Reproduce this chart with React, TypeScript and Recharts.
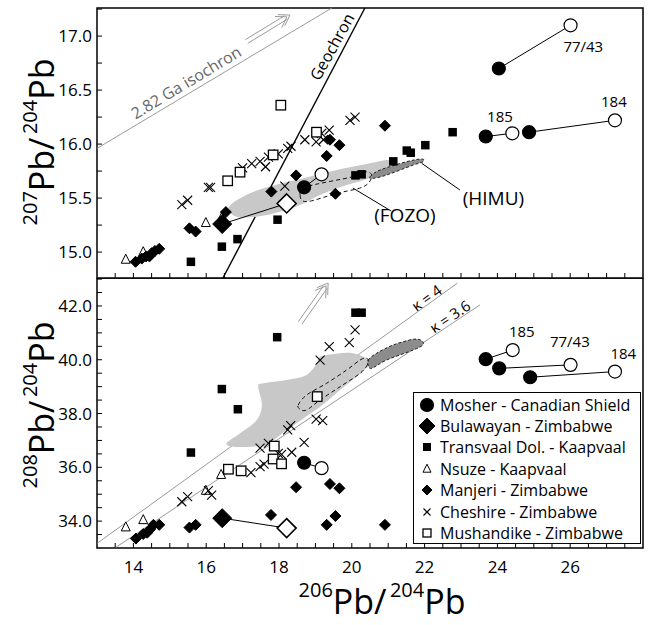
import React from 'react';
import {
  ScatterChart, Scatter, XAxis, YAxis, ReferenceLine, ReferenceDot, ReferenceArea,
} from 'recharts';

const FONT = '"Open Sans", sans-serif';

// axis ranges and labelled ticks
const xDomain = [13, 28];
const y207Domain = [14.76, 17.26];
const y208Domain = [33.0, 43.04];
const xLabels = [14, 16, 18, 20, 22, 24, 26, 28];
const y207Labels = [15.0, 15.5, 16.0, 16.5, 17.0];
const y208Labels = [34.0, 36.0, 38.0, 40.0, 42.0];

// 206Pb/204Pb vs 207Pb/204Pb
const mosher207 = [
  [[18.69, 15.60], [19.17, 15.72]],
  [[24.04, 16.70], [26.01, 17.10]],
  [[23.68, 16.07], [24.41, 16.10]],
  [[24.87, 16.11], [27.23, 16.22]],
];
const bulawayan207 = [[16.44, 15.26], [18.21, 15.45]];
const transvaal207 = [
  [15.58, 14.91], [16.43, 15.05], [16.86, 15.12], [17.96, 15.30], [20.10, 15.71], [20.27, 15.72],
  [21.14, 15.84], [21.51, 15.94], [21.62, 15.92], [22.02, 15.99], [22.77, 16.11],
];
const nsuze207 = [[13.79, 14.93], [14.27, 15.00], [15.99, 15.27], [16.43, 15.32]];
const manjeri207 = [
  [14.06, 14.91], [14.23, 14.94], [14.35, 14.96], [14.44, 14.96], [14.50, 14.99], [14.59, 15.01],
  [14.71, 15.03], [15.54, 15.22], [15.71, 15.19], [16.54, 15.37], [17.79, 15.56], [18.47, 15.71],
  [19.31, 15.89], [19.40, 16.04], [19.66, 15.99], [19.55, 15.54], [20.91, 16.17],
];
const cheshire207 = [
  [15.33, 15.44], [15.49, 15.48], [16.06, 15.60], [16.12, 15.60], [17.00, 15.78], [17.25, 15.82],
  [17.48, 15.84], [17.63, 15.79], [17.71, 15.88], [17.98, 15.91], [18.24, 15.96], [18.33, 15.98],
  [18.16, 15.61], [18.71, 16.04], [19.02, 16.02], [19.17, 16.10], [19.38, 16.13], [19.22, 16.04],
  [19.95, 16.22], [20.09, 16.25],
];
const mushandike207 = [[16.59, 15.66], [16.93, 15.74], [17.84, 15.90], [18.05, 16.36], [19.03, 16.11]];

const fozoField207 = [
  [16.61, 15.405], [16.93, 15.498], [17.57, 15.591], [18.67, 15.683], [19.59, 15.76], [20.50, 15.822],
  [20.96, 15.853], [21.23, 15.837], [21.19, 15.78], [20.50, 15.683], [19.86, 15.621], [19.13, 15.529],
  [18.58, 15.436], [18.03, 15.374], [17.39, 15.328], [16.84, 15.328],
];
const fozoCore207 = [
  [18.58, 15.529], [18.76, 15.605], [20.04, 15.698], [20.41, 15.744], [20.55, 15.698],
  [20.32, 15.605], [19.59, 15.544], [18.76, 15.467],
];
const himu207 = [
  [20.50, 15.698], [20.78, 15.76], [21.51, 15.837], [21.92, 15.862], [21.96, 15.837],
  [21.69, 15.806], [20.96, 15.714], [20.59, 15.683],
];

// 206Pb/204Pb vs 208Pb/204Pb
const mosher208 = [
  [[18.69, 36.17], [19.17, 35.97]],
  [[24.05, 39.68], [26.01, 39.81]],
  [[23.68, 40.02], [24.42, 40.36]],
  [[24.90, 39.35], [27.23, 39.56]],
];
const bulawayan208 = [[16.44, 34.11], [18.21, 33.74]];
const transvaal208 = [[15.58, 36.55], [16.43, 38.91], [16.87, 38.16], [17.95, 40.84], [20.10, 41.75], [20.27, 41.75]];
const nsuze208 = [[13.79, 33.77], [14.27, 34.04], [15.99, 35.13], [16.41, 35.72]];
const manjeri208 = [
  [14.07, 33.35], [14.27, 33.52], [14.38, 33.57], [14.46, 33.70], [14.55, 33.86], [14.71, 33.86],
  [15.54, 33.76], [15.71, 33.86], [17.78, 34.23], [18.47, 35.26], [19.40, 35.38], [19.66, 35.22],
  [19.31, 33.86], [19.55, 34.19], [20.91, 33.86],
];
const cheshire208 = [
  [15.33, 34.72], [15.49, 34.91], [16.06, 35.13], [16.15, 34.97], [17.23, 35.80], [17.48, 36.03],
  [17.59, 36.12], [17.48, 36.71], [17.71, 36.89], [17.98, 36.52], [18.07, 36.48], [18.35, 36.56],
  [18.24, 37.39], [18.32, 37.55], [18.69, 36.93], [19.02, 37.79], [19.20, 37.74], [19.13, 39.99],
  [19.38, 40.49], [19.93, 40.64], [20.09, 41.11],
];
const mushandike208 = [[16.61, 35.93], [16.96, 35.87], [17.87, 36.79], [17.84, 36.31], [18.07, 36.13], [19.05, 38.63]];

const fozoField208 = [
  [16.56, 36.895], [16.93, 37.267], [17.39, 37.761], [17.53, 38.319], [17.43, 38.999], [17.57, 39.126],
  [18.21, 39.248], [18.76, 39.434], [19.04, 39.869], [19.13, 40.114], [19.68, 40.241], [20.04, 40.241],
  [20.41, 40.055], [20.50, 39.929], [20.45, 39.743], [19.68, 38.876], [19.13, 38.256], [18.21, 37.389],
  [17.66, 36.832], [17.29, 36.769], [16.75, 36.769],
];
const fozoCore208 = [
  [18.53, 38.319], [18.76, 38.691], [19.31, 39.126], [19.86, 39.62], [20.23, 39.992], [20.41, 40.055],
  [20.45, 39.869], [20.23, 39.497], [19.68, 39.0], [19.13, 38.505], [18.76, 38.133], [18.58, 38.159],
];
const himu208 = [
  [20.45, 39.992], [20.68, 40.241], [21.14, 40.55], [21.69, 40.761], [21.92, 40.709], [21.95, 40.55],
  [21.69, 40.364], [20.96, 39.992], [20.55, 39.683], [20.45, 39.806],
];

const sampleIds = ['', '77/43', '185', '184'];

const pts = (arr: number[][]) => arr.map(([x, y]) => ({ x, y }));
const pairPts = (arr: number[][]) => arr.map(([x, y], i) => ({ x, y, open: i === 1 }));

// marker shapes
const circle = (cx: number, cy: number, open: boolean) => (
  <circle cx={cx} cy={cy} r={6.5} fill={open ? '#fff' : '#000'} stroke="#000" strokeWidth={1.2} />
);
const diamond = (cx: number, cy: number, h: number, open = false) => (
  <polygon points={`${cx},${cy - h} ${cx + h},${cy} ${cx},${cy + h} ${cx - h},${cy}`}
    fill={open ? '#fff' : '#000'} stroke="#000" strokeWidth={open ? 1.6 : 1} />
);
const square = (cx: number, cy: number, s: number, open = false) => (
  <rect x={cx - s / 2} y={cy - s / 2} width={s} height={s} fill={open ? '#fff' : '#000'} stroke="#000" strokeWidth={open ? 1.3 : 0} />
);
const triangle = (cx: number, cy: number, s: number) => (
  <polygon points={`${cx},${cy - s * 0.6} ${cx + s / 2},${cy + s * 0.4} ${cx - s / 2},${cy + s * 0.4}`}
    fill="#fff" stroke="#000" strokeWidth={1} />
);
const cross = (cx: number, cy: number, a: number) => (
  <g stroke="#000" strokeWidth={1.1}>
    <line x1={cx - a} y1={cy - a} x2={cx + a} y2={cy + a} />
    <line x1={cx - a} y1={cy + a} x2={cx + a} y2={cy - a} />
  </g>
);

const legendItems = [
  { label: 'Mosher - Canadian Shield', icon: circle(9, 10, false) },
  { label: 'Bulawayan - Zimbabwe', icon: diamond(9, 10, 8) },
  { label: 'Transvaal Dol. - Kaapvaal', icon: square(9, 10, 8) },
  { label: 'Nsuze - Kaapvaal', icon: triangle(9, 10, 8) },
  { label: 'Manjeri - Zimbabwe', icon: diamond(9, 10, 5) },
  { label: 'Cheshire - Zimbabwe', icon: cross(9, 10, 3.5) },
  { label: 'Mushandike - Zimbabwe', icon: square(9, 10, 8, true) },
];

// closed smooth outline through the scatter's pixel points
const polygonLine = (fill: string, stroke: string, dash?: string) => (p: any) => {
  const q = p.points;
  const n = q.length;
  let d = `M${q[0].x},${q[0].y}`;
  for (let i = 0; i < n; i++) {
    const p0 = q[(i - 1 + n) % n], p1 = q[i], p2 = q[(i + 1) % n], p3 = q[(i + 2) % n];
    const c1x = p1.x + (p2.x - p0.x) / 6, c1y = p1.y + (p2.y - p0.y) / 6;
    const c2x = p2.x - (p3.x - p1.x) / 6, c2y = p2.y - (p3.y - p1.y) / 6;
    d += ` C${c1x},${c1y} ${c2x},${c2y} ${p2.x},${p2.y}`;
  }
  return <path d={d + ' Z'} fill={fill} stroke={stroke} strokeWidth={1} strokeDasharray={dash} />;
};

const doubleArrow = (p: any) => {
  const { x1, y1, x2, y2 } = p;
  const len = Math.hypot(x2 - x1, y2 - y1);
  const ux = (x2 - x1) / len, uy = (y2 - y1) / len;
  const nx = -uy, ny = ux;
  const w = 2.2, h = 10;
  const chev = (back: number) => {
    const tx = x2 - ux * back, ty = y2 - uy * back;
    return `${tx - ux * h + nx * h * 0.65},${ty - uy * h + ny * h * 0.65} ${tx},${ty} ${tx - ux * h - nx * h * 0.65},${ty - uy * h - ny * h * 0.65}`;
  };
  const ex = x2 - ux * 5, ey = y2 - uy * 5;
  return (
    <g stroke="#9a9a9a" strokeWidth={1} fill="none">
      <line x1={x1 + nx * w} y1={y1 + ny * w} x2={ex + nx * w} y2={ey + ny * w} />
      <line x1={x1 - nx * w} y1={y1 - ny * w} x2={ex - nx * w} y2={ey - ny * w} />
      <polyline points={chev(0)} />
      <polyline points={chev(3.5)} />
    </g>
  );
};

const makeXTick = (labels: boolean) => (p: any) => {
  const v = p.payload.value;
  return (
    <g>
      <line x1={p.x} y1={p.y} x2={p.x} y2={p.y - 5} stroke="#000" strokeWidth={1} />
      {labels && xLabels.includes(v) && (
        <text x={p.x} y={p.y + 25} textAnchor="middle" fontSize={17} fontFamily={FONT} fill="#000">{v}</text>
      )}
    </g>
  );
};
const makeYTick = (labelVals: number[]) => (p: any) => {
  const v = p.payload.value;
  const show = labelVals.some((l) => Math.abs(l - v) < 1e-6);
  return (
    <g>
      <line x1={p.x} y1={p.y} x2={p.x + 5} y2={p.y} stroke="#000" strokeWidth={1} />
      {show && (
        <text x={p.x - 5} y={p.y + 6} textAnchor="end" fontSize={17} fontFamily={FONT} fill="#000">{v.toFixed(1)}</text>
      )}
    </g>
  );
};

const steps = (a: number, b: number, s: number) => Array.from({ length: Math.round((b - a) / s) + 1 }, (_, i) => +(a + i * s).toFixed(3));
const xMinor = steps(13.5, 27.5, 0.5);
const y207Minor = steps(15.0, 17.25, 0.25);
const y208Minor = steps(33.5, 43.0, 0.5);

const lbl = (value: string, fontSize = 15, angle = 0, fill = '#000') => ({
  value, position: 'center' as const, fontSize, angle, fill, fontFamily: FONT,
});

function panelSeries(d: any) {
  return [
    <Scatter key="field" data={pts(d.field)} shape={() => <g />} line={polygonLine('#c8c8c8', 'none')} isAnimationActive={false} />,
    <Scatter key="himu" data={pts(d.himu)} shape={() => <g />} line={polygonLine('#8c8c8c', '#222', '3 2')} isAnimationActive={false} />,
    <Scatter key="core" data={pts(d.core)} shape={() => <g />} line={polygonLine('none', '#111', '4 3')} isAnimationActive={false} />,
    <Scatter key="transvaal" data={pts(d.transvaal)} shape={(p: any) => square(p.cx, p.cy, 8.5)} isAnimationActive={false} />,
    <Scatter key="nsuze" data={pts(d.nsuze)} shape={(p: any) => triangle(p.cx, p.cy, 9)} isAnimationActive={false} />,
    <Scatter key="manjeri" data={pts(d.manjeri)} shape={(p: any) => diamond(p.cx, p.cy, 5.5)} isAnimationActive={false} />,
    <Scatter key="cheshire" data={pts(d.cheshire)} shape={(p: any) => cross(p.cx, p.cy, 4.5)} isAnimationActive={false} />,
    <Scatter key="mushandike" data={pts(d.mushandike)} shape={(p: any) => square(p.cx, p.cy, 9.5, true)} isAnimationActive={false} />,
    <Scatter key="bulawayan" data={pairPts(d.bulawayan)} line={{ stroke: '#000', strokeWidth: 1 }}
      shape={(p: any) => diamond(p.cx, p.cy, 9.5, p.payload.open)} isAnimationActive={false} />,
    ...d.mosher.map((pair: number[][], i: number) => (
      <Scatter key={`mosher${i}`} data={pairPts(pair)} line={{ stroke: '#000', strokeWidth: 1 }}
        shape={(p: any) => circle(p.cx, p.cy, p.payload.open)} isAnimationActive={false} />
    )),
  ];
}

const ratioTitle = (x: number, y: number, top: string, rotate: boolean) => (
  <text x={x} y={y} transform={rotate ? `rotate(-90 ${x} ${y})` : undefined} textAnchor="middle" fill="#000">
    <tspan fontSize={20} dy={-17}>{top}</tspan><tspan fontSize={34} dy={17}>Pb/</tspan>
    <tspan fontSize={20} dy={-17}>{'\u2009204'}</tspan><tspan fontSize={34} dy={17}>Pb</tspan>
  </text>
);

export default function App() {
  const W = 655;
  return (
    <div style={{ position: 'absolute', left: 0, top: 0, width: W, height: 625, background: '#fff', fontFamily: FONT }}>
      <div style={{ position: 'absolute', left: 0, top: 0 }}>
        <ScatterChart width={W} height={279} margin={{ top: 8, right: 12, bottom: 0, left: 0 }}>
          <XAxis dataKey="x" type="number" domain={xDomain} allowDataOverflow ticks={xMinor} interval={0}
            height={1} tickSize={0} tickMargin={0} axisLine={false} tickLine={false} tick={makeXTick(false)} />
          <YAxis dataKey="y" type="number" domain={y207Domain} allowDataOverflow ticks={y207Minor} interval={0}
            width={97} tickSize={0} tickMargin={0} axisLine={false} tickLine={false} tick={makeYTick(y207Labels)} />
          <ReferenceLine segment={[{ x: 13, y: 15.96 }, { x: 19.45, y: 17.26 }]} stroke="#9a9a9a" strokeWidth={1} ifOverflow="visible" />
          <ReferenceLine segment={[{ x: 16.46, y: 14.76 }, { x: 20.36, y: 17.26 }]} stroke="#000" strokeWidth={1.4} ifOverflow="visible" />
          <ReferenceLine segment={[{ x: 17.11, y: 16.95 }, { x: 18.30, y: 17.195 }]} shape={doubleArrow} ifOverflow="visible" />
          <ReferenceLine segment={[{ x: 20.03, y: 15.593 }, { x: 21.08, y: 15.38 }]} stroke="#000" strokeWidth={1} ifOverflow="visible" />
          <ReferenceLine segment={[{ x: 21.92, y: 15.822 }, { x: 22.97, y: 15.575 }]} stroke="#000" strokeWidth={1} ifOverflow="visible" />
          {panelSeries({
            field: fozoField207, core: fozoCore207, himu: himu207, mosher: mosher207, bulawayan: bulawayan207,
            transvaal: transvaal207, nsuze: nsuze207, manjeri: manjeri207, cheshire: cheshire207, mushandike: mushandike207,
          })}
          <ReferenceDot x={15.45} y={16.57} r={0} fill="none" stroke="none" ifOverflow="visible" label={lbl('2.82 Ga isochron', 16, -31, '#666')} />
          <ReferenceDot x={19.46} y={16.90} r={0} fill="none" stroke="none" ifOverflow="visible" label={lbl('Geochron', 16, -61)} />
          <ReferenceDot x={26.36} y={16.90} r={0} fill="none" stroke="none" ifOverflow="visible" label={lbl(sampleIds[1])} />
          <ReferenceDot x={24.07} y={16.25} r={0} fill="none" stroke="none" ifOverflow="visible" label={lbl(sampleIds[2])} />
          <ReferenceDot x={27.20} y={16.39} r={0} fill="none" stroke="none" ifOverflow="visible" label={lbl(sampleIds[3])} />
          <ReferenceDot x={21.46} y={15.34} r={0} fill="none" stroke="none" ifOverflow="visible" label={lbl('(FOZO)', 19)} />
          <ReferenceDot x={23.89} y={15.50} r={0} fill="none" stroke="none" ifOverflow="visible" label={lbl('(HIMU)', 19)} />
          <ReferenceArea x1={13} x2={28} y1={y207Domain[0]} y2={y207Domain[1]} fill="none" stroke="#000" strokeWidth={1.5} ifOverflow="visible" />
        </ScatterChart>
      </div>
      <div style={{ position: 'absolute', left: 0, top: 278 }}>
        <ScatterChart width={W} height={347} margin={{ top: 0, right: 12, bottom: 0, left: 0 }}>
          <XAxis dataKey="x" type="number" domain={xDomain} allowDataOverflow ticks={xMinor} interval={0}
            height={77} tickSize={0} tickMargin={0} axisLine={false} tickLine={false} tick={makeXTick(true)} />
          <YAxis dataKey="y" type="number" domain={y208Domain} allowDataOverflow ticks={y208Minor} interval={0}
            width={97} tickSize={0} tickMargin={0} axisLine={false} tickLine={false} tick={makeYTick(y208Labels)} />
          <ReferenceLine segment={[{ x: 13.01, y: 33.18 }, { x: 22.9, y: 42.85 }]} stroke="#9a9a9a" strokeWidth={1} ifOverflow="visible" />
          <ReferenceLine segment={[{ x: 13.49, y: 33.0 }, { x: 23.52, y: 42.04 }]} stroke="#9a9a9a" strokeWidth={1} ifOverflow="visible" />
          <ReferenceLine segment={[{ x: 18.58, y: 41.37 }, { x: 19.35, y: 42.85 }]} shape={doubleArrow} ifOverflow="visible" />
          {panelSeries({
            field: fozoField208, core: fozoCore208, himu: himu208, mosher: mosher208, bulawayan: bulawayan208,
            transvaal: transvaal208, nsuze: nsuze208, manjeri: manjeri208, cheshire: cheshire208, mushandike: mushandike208,
          })}
          <ReferenceDot x={22.06} y={42.29} r={0} fill="none" stroke="none" ifOverflow="visible" label={lbl('κ = 4', 15, -36)} />
          <ReferenceDot x={22.70} y={41.60} r={0} fill="none" stroke="none" ifOverflow="visible" label={lbl('κ = 3.6', 15, -34)} />
          <ReferenceDot x={24.67} y={41.04} r={0} fill="none" stroke="none" ifOverflow="visible" label={lbl(sampleIds[2])} />
          <ReferenceDot x={25.99} y={40.67} r={0} fill="none" stroke="none" ifOverflow="visible" label={lbl(sampleIds[1])} />
          <ReferenceDot x={27.46} y={40.24} r={0} fill="none" stroke="none" ifOverflow="visible" label={lbl(sampleIds[3])} />
          <ReferenceArea x1={13} x2={28} y1={y208Domain[0]} y2={y208Domain[1]} fill="none" stroke="#000" strokeWidth={1.5} ifOverflow="visible" />
        </ScatterChart>
      </div>
      <div style={{
        position: 'absolute', left: 413, top: 392, width: 228, height: 152, boxSizing: 'border-box',
        border: '1.5px solid #000', background: '#fff', padding: '1px 0 0 4px', fontSize: 16,
      }}>
        {legendItems.map((it) => (
          <div key={it.label} style={{ height: 21.4, display: 'flex', alignItems: 'center', whiteSpace: 'nowrap' }}>
            <svg width={19} height={20} style={{ flex: 'none', marginRight: 3 }}>{it.icon}</svg>
            <span>{it.label}</span>
          </div>
        ))}
      </div>
      <svg width={W} height={625} style={{ position: 'absolute', left: 0, top: 0, pointerEvents: 'none' }} fontFamily={FONT}>
        {ratioTitle(54, 142, '207', true)}
        {ratioTitle(54, 405, '208', true)}
        {ratioTitle(382, 614, '206', false)}
      </svg>
    </div>
  );
}
